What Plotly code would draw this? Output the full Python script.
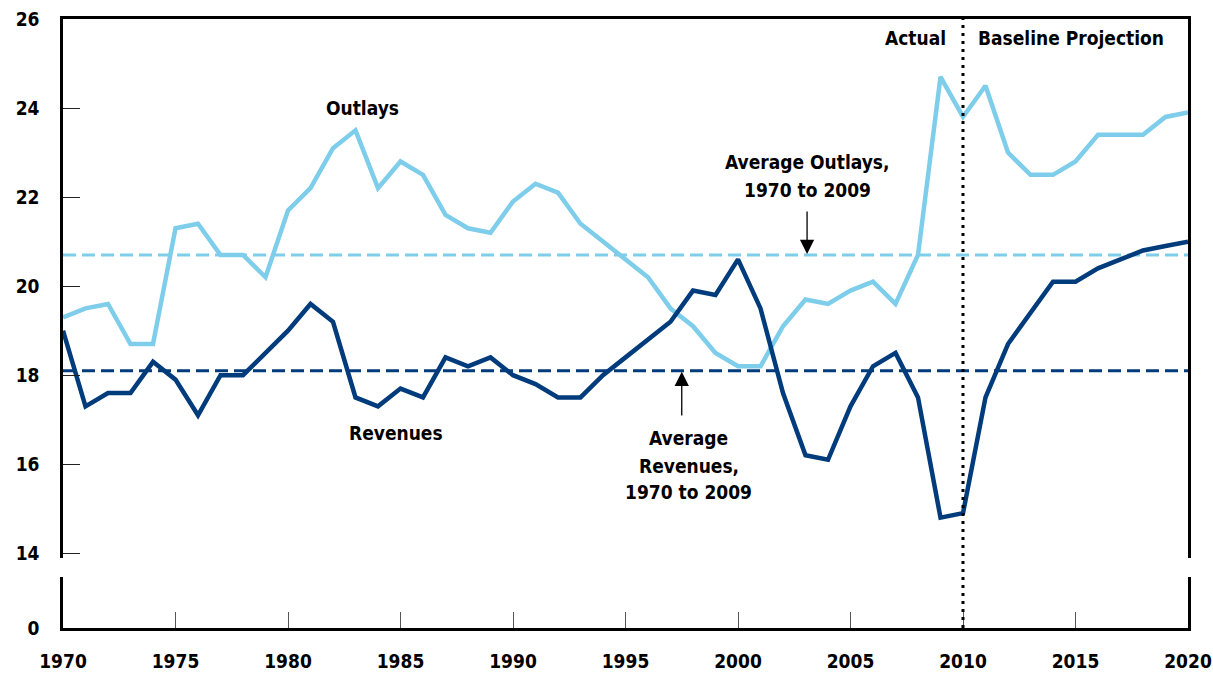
import plotly.graph_objects as go

years = list(range(1970, 2021))
outlays = [19.3, 19.5, 19.6, 18.7, 18.7, 21.3, 21.4, 20.7, 20.7, 20.2,
           21.7, 22.2, 23.1, 23.5, 22.2, 22.8, 22.5, 21.6, 21.3, 21.2,
           21.9, 22.3, 22.1, 21.4, 21.0, 20.6, 20.2, 19.5, 19.1, 18.5,
           18.2, 18.2, 19.1, 19.7, 19.6, 19.9, 20.1, 19.6, 20.7, 24.7,
           23.8, 24.5, 23.0, 22.5, 22.5, 22.8, 23.4, 23.4, 23.4, 23.8, 23.9]
revenues = [19.0, 17.3, 17.6, 17.6, 18.3, 17.9, 17.1, 18.0, 18.0, 18.5,
            19.0, 19.6, 19.2, 17.5, 17.3, 17.7, 17.5, 18.4, 18.2, 18.4,
            18.0, 17.8, 17.5, 17.5, 18.0, 18.4, 18.8, 19.2, 19.9, 19.8,
            20.6, 19.5, 17.6, 16.2, 16.1, 17.3, 18.2, 18.5, 17.5, 14.8,
            14.9, 17.5, 18.7, 19.4, 20.1, 20.1, 20.4, 20.6, 20.8, 20.9, 21.0]
avg_outlays = 20.7
avg_revenues = 18.1
x_ticks = [1970, 1975, 1980, 1985, 1990, 1995, 2000, 2005, 2010, 2015, 2020]
y_ticks_top = [14, 16, 18, 20, 22, 24, 26]
y_ticks_bottom = [0]
split_year = 2010

LIGHT = "#7ECDEA"
DARK = "#003B7C"
FONT = "Liberation Sans Narrow, DejaVu Sans Condensed, Arial Narrow, sans-serif"

fig = go.Figure()

fig.add_trace(go.Scatter(x=[1970, 2020], y=[avg_outlays, avg_outlays], mode="lines",
                         line=dict(color=LIGHT, width=3, dash="13px,6px"),
                         hoverinfo="skip", showlegend=False))
fig.add_trace(go.Scatter(x=[1970, 2020], y=[avg_revenues, avg_revenues], mode="lines",
                         line=dict(color=DARK, width=3, dash="13px,6px"),
                         hoverinfo="skip", showlegend=False))
fig.add_trace(go.Scatter(x=years, y=outlays, mode="lines", name="Outlays",
                         line=dict(color=LIGHT, width=4.5), showlegend=False))
fig.add_trace(go.Scatter(x=years, y=revenues, mode="lines", name="Revenues",
                         line=dict(color=DARK, width=4.5), showlegend=False))
# invisible trace to register the lower (broken-axis) panel
fig.add_trace(go.Scatter(x=[years[0]], y=[y_ticks_bottom[0]], xaxis="x2", yaxis="y2",
                         mode="markers", marker=dict(opacity=0), hoverinfo="skip",
                         showlegend=False))

fig.add_shape(type="line", xref="x", yref="paper", x0=split_year, x1=split_year,
              y0=0, y1=1, line=dict(color="black", width=3, dash="3px,5px"))

tfont = dict(family=FONT, size=19, color="black")
ann = []
def txt(x, y, s, xanchor="center"):
    ann.append(dict(x=x, y=y, xref="x", yref="y", text="<b>%s</b>" % s,
                    showarrow=False, font=tfont, xanchor=xanchor, yanchor="middle"))

txt(1983.3, 24.0, "Outlays")
txt(1984.8, 16.7, "Revenues")
txt(2003.1, 22.78, "Average Outlays,")
txt(2003.1, 22.15, "1970 to 2009")
txt(1997.8, 16.6, "Average")
txt(1997.8, 15.97, "Revenues,")
txt(1997.8, 15.37, "1970 to 2009")
txt(2009.33, 25.57, "Actual", xanchor="right")
txt(2010.58, 25.57, "Baseline Projection", xanchor="left")

for (x, ytail, yhead) in [(2003.07, 21.71, avg_outlays), (1997.5, 17.06, avg_revenues)]:
    ann.append(dict(x=x, y=yhead, ax=x, ay=ytail, xref="x", yref="y", axref="x", ayref="y",
                    text="", showarrow=True, arrowhead=2, arrowsize=2.2, arrowwidth=1.3,
                    arrowcolor="black", standoff=1))

tickfont = dict(family=FONT, size=19, color="black", weight="bold")
fig.update_layout(
    width=1213, height=674,
    margin=dict(l=63, r=25, t=19, b=46, autoexpand=False),
    plot_bgcolor="white", paper_bgcolor="white",
    annotations=ann,
    font=dict(family=FONT, size=18, color="black"),
    xaxis=dict(domain=[0, 1], anchor="y", range=[1970, 2020], side="top", automargin=False,
               showline=True, linecolor="black", linewidth=2.5,
               showticklabels=False, ticks="", showgrid=False, zeroline=False),
    yaxis=dict(domain=[0.1154, 1], anchor="x", range=[13.9, 26], automargin=False,
               tickvals=y_ticks_top, ticks="inside", ticklen=17, tickwidth=1.3, tickcolor="#222",
               showline=True, mirror=True, linecolor="black", linewidth=2.5,
               ticklabeloverflow="allow",
               showgrid=False, zeroline=False, ticklabelstandoff=17, tickfont=tickfont),
    xaxis2=dict(domain=[0, 1], anchor="y2", range=[1970, 2020], automargin=False,
                tickvals=x_ticks, ticks="inside", ticklen=16, tickwidth=1.3, tickcolor="#555",
                showline=True, linecolor="black", linewidth=2.5,
                ticklabeloverflow="allow",
                showgrid=False, zeroline=False, ticklabelstandoff=14, tickfont=tickfont),
    yaxis2=dict(domain=[0, 0.0842], anchor="x2", range=[0, 1], automargin=False,
                tickvals=y_ticks_bottom, ticks="",
                showline=True, mirror=True, linecolor="black", linewidth=2.5,
                ticklabeloverflow="allow",
                showgrid=False, zeroline=False, ticklabelstandoff=17, tickfont=tickfont),
)

fig.write_html("out.html", config={"displayModeBar": False},
               post_script="document.body.style.margin='0';")
